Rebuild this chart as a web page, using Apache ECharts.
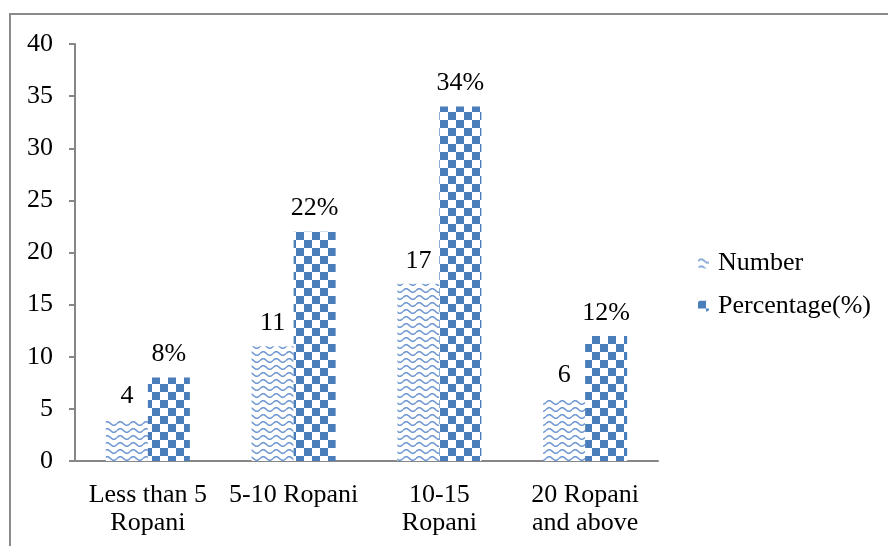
<!DOCTYPE html>
<html><head><meta charset="utf-8">
<script src="https://cdn.jsdelivr.net/npm/echarts@6/dist/echarts.min.js"></script>
<style>html,body{margin:0;padding:0;background:#fff}#c{width:888px;height:546px}</style>
</head><body><div id="c"></div>
<script>
const categories = ['Less than 5\nRopani', '5-10 Ropani', '10-15\nRopani', '20 Ropani\nand above'];
const numberValues = [4, 11, 17, 6];
const percentValues = [8, 22, 34, 12];
const yTicks = [0, 5, 10, 15, 20, 25, 30, 35, 40];

function wavePattern() {
  const c = document.createElement('canvas');
  c.width = 13; c.height = 7;
  const g = c.getContext('2d');
  g.fillStyle = '#fff'; g.fillRect(0, 0, 13, 7);
  g.strokeStyle = '#6f98d2'; g.lineWidth = 1.6;
  g.beginPath();
  for (let x = 0; x <= 13; x += 0.5) {
    const y = 3.5 - 1.8 * Math.sin(x / 13 * Math.PI * 2);
    if (x === 0) g.moveTo(x, y); else g.lineTo(x, y);
  }
  g.stroke();
  return c;
}
function checkPattern() {
  const c = document.createElement('canvas');
  c.width = 16; c.height = 16;
  const g = c.getContext('2d');
  g.fillStyle = '#fff'; g.fillRect(0, 0, 16, 16);
  g.fillStyle = '#4a7ebb';
  g.fillRect(0, 0, 8, 8); g.fillRect(8, 8, 8, 8);
  return c;
}
const font = 'Liberation Serif';
const fs = 26;
const chart = echarts.init(document.getElementById('c'));
chart.setOption({
  animation: false,
  backgroundColor: '#fff',
  graphic: [{
    type: 'rect', shape: { x: 10, y: 14, width: 900, height: 560 },
    style: { fill: 'none', stroke: '#8a8a8a', lineWidth: 2 }, z: -1
  }],
  grid: { left: 75, right: 230, top: 44, bottom: 85 },
  legend: {
    orient: 'vertical', left: 693, top: 245, itemGap: 17,
    itemWidth: 11, itemHeight: 11,
    textStyle: { fontFamily: font, fontSize: fs, color: '#000', padding: [0, 0, 0, 4] },
    data: ['Number', 'Percentage(%)']
  },
  xAxis: {
    type: 'category', data: categories,
    axisLine: { lineStyle: { color: '#868686', width: 2 } },
    axisTick: { length: 6, lineStyle: { color: '#868686', width: 2 } },
    axisLabel: { fontFamily: font, fontSize: fs, color: '#000', margin: 20, lineHeight: 28, interval: 0 }
  },
  yAxis: {
    type: 'value', min: 0, max: 40, interval: 5,
    axisLine: { show: true, lineStyle: { color: '#868686', width: 2 } },
    axisTick: { show: true, length: 6, lineStyle: { color: '#868686', width: 2 } },
    splitLine: { show: false },
    axisLabel: { fontFamily: font, fontSize: fs, color: '#000', margin: 22,
      formatter: v => yTicks.includes(v) ? String(v) : '' }
  },
  series: [{
    name: 'Number', type: 'bar', data: numberValues,
    barWidth: 42, barGap: '0%',
    itemStyle: { color: { image: wavePattern(), repeat: 'repeat' } },
    label: { show: true, position: 'top', distance: 10, fontFamily: font, fontSize: fs, color: '#000' }
  }, {
    name: 'Percentage(%)', type: 'bar', data: percentValues,
    barWidth: 42,
    itemStyle: { color: { image: checkPattern(), repeat: 'repeat' } },
    label: { show: true, position: 'top', distance: 10, fontFamily: font, fontSize: fs, color: '#000', formatter: '{c}%' }
  }]
});
</script></body></html>
